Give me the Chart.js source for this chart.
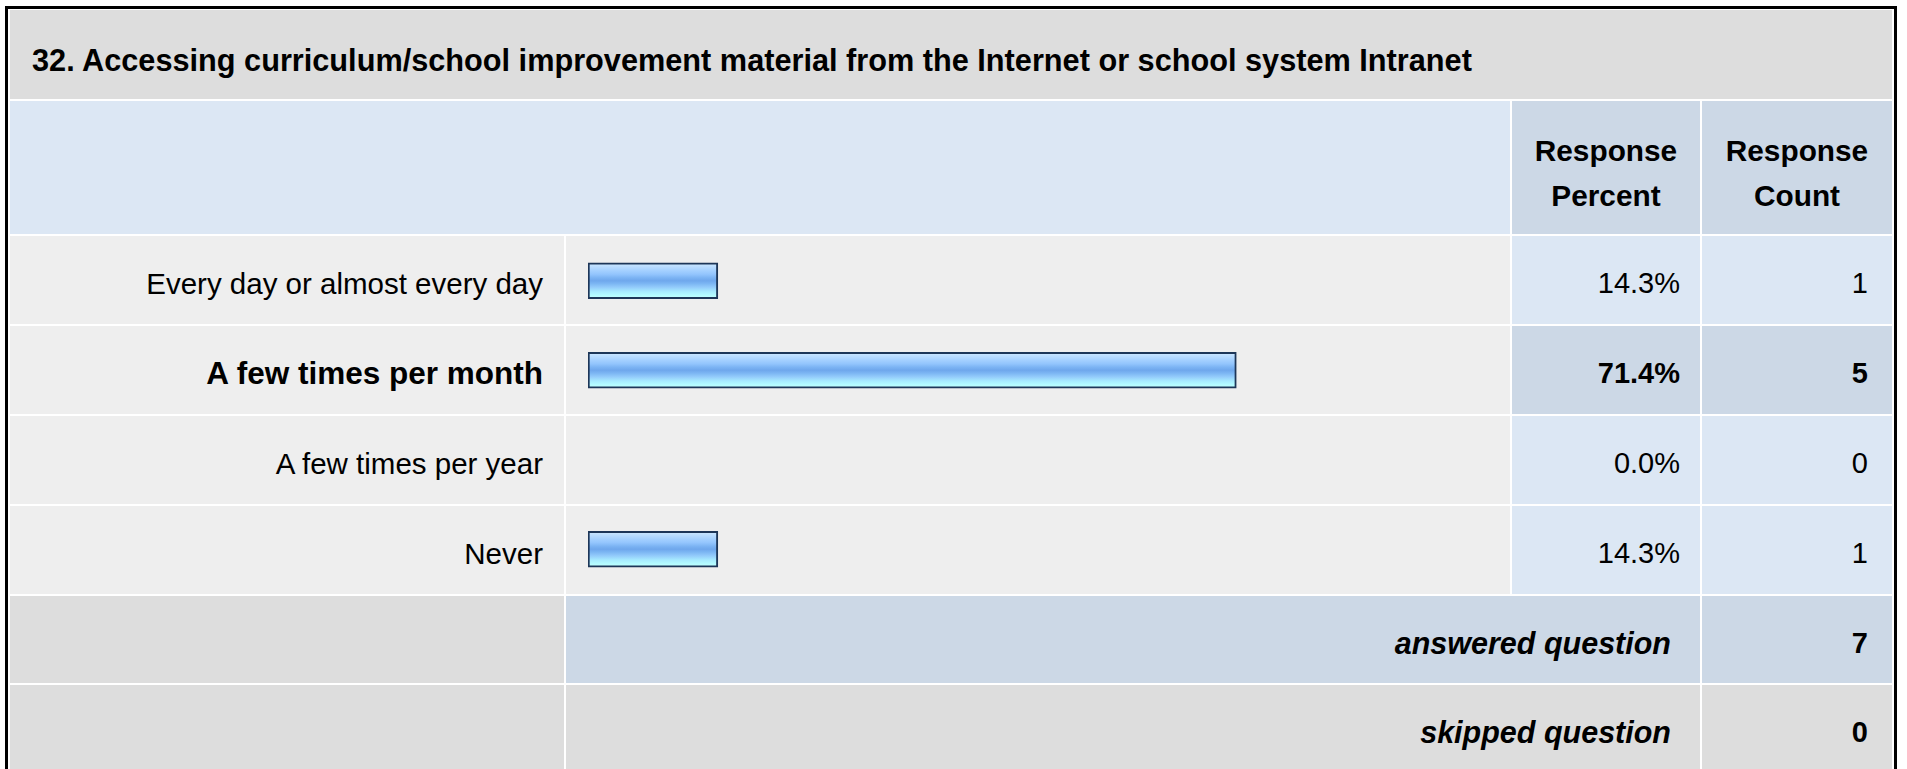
<!DOCTYPE html>
<html>
<head>
<meta charset="utf-8">
<script src="https://cdn.jsdelivr.net/npm/chart.js@4.4.1/dist/chart.umd.min.js"></script>
<style>
    html, body {
        margin: 0;
        padding: 0;
        overflow: hidden;
        background: #ffffff;
        font-family: "Liberation Sans", Arial, sans-serif;
        color: #000000;
    }
    #frame {
        position: absolute;
        left: 5px;
        top: 6px;
        width: 1886px;
        height: 800px;
        border: 3px solid #000000;
        background: #ffffff;
    }
    #survey {
        position: absolute;
        left: 10px;
        top: 10px;
        display: grid;
        grid-template-columns: 554px 944px 188px 190px;
        grid-template-rows: 89px 133px 88px 88px 88px 88px 87px 88px;
        gap: 2px;
        background: #ffffff;
    }
    .cell {
        display: flex;
        align-items: center;
        font-size: 29px;
        box-sizing: border-box;
    }
    .title {
        grid-column: 1 / 5;
        background: #dddddd;
        font-weight: bold;
        font-size: 30.7px;
        padding-left: 22px;
        padding-top: 12px;
    }
    .head-blank { grid-column: 1 / 3; background: #dce7f4; }
    .head {
        background: #ccd8e6;
        font-weight: bold;
        font-size: 29.8px;
        justify-content: center;
        text-align: center;
        line-height: 45px;
        padding-top: 10px;
    }
    .label { background: #eeeeee; justify-content: flex-end; padding-right: 21px; padding-top: 7px; font-size: 29.5px; }
    .label.hi { font-size: 31.5px; }
    .barcell { background: #eeeeee; }
    .pct { background: #dce7f4; justify-content: flex-end; padding-right: 20px; padding-top: 7px; }
    .cnt { background: #dce7f4; justify-content: flex-end; padding-right: 24px; padding-top: 7px; }
    .hi { font-weight: bold; }
    .pct.hi, .cnt.hi { background: #ccd8e6; }
    .foot-blank { background: #dddddd; }
    .foot-label {
        grid-column: 2 / 4;
        justify-content: flex-end;
        padding-right: 29px;
        padding-top: 7px;
        font-weight: bold;
        font-style: italic;
        font-size: 30.5px;
    }
    .foot-cnt { justify-content: flex-end; padding-right: 24px; padding-top: 7px; font-weight: bold; }
    .answered { background: #ccd8e6; }
    .skipped { background: #dddddd; }
    #chartBox {
        grid-column: 2;
        grid-row: 3 / 7;
        position: relative;
        z-index: 1;
    }
</style>
</head>
<body>
<div id="frame"></div>
<div id="survey">
    <div class="cell title" id="title"></div>
    <div class="cell head-blank"></div>
    <div class="cell head">Response<br>Percent</div>
    <div class="cell head">Response<br>Count</div>
    <div id="chartBox"><canvas id="myChart"></canvas></div>
</div>

<script>
const questionTitle = '32. Accessing curriculum/school improvement material from the Internet or school system Intranet'
const answers = ['Every day or almost every day', 'A few times per month', 'A few times per year', 'Never']
const percents = [14.3, 71.4, 0.0, 14.3]
const counts = [1, 5, 0, 1]
const answeredCount = 7
const skippedCount = 0

let mychart

// stripes of the glossy bar, top to bottom
const barStops = [
    [0.00, '#d2eaff'],
    [0.10, '#bcdeff'],
    [0.22, '#a4d0ff'],
    [0.32, '#93c5fd'],
    [0.42, '#7bb3f3'],
    [0.50, '#6fa7ec'],
    [0.58, '#7cb6f3'],
    [0.68, '#93cbfb'],
    [0.80, '#a7ebff'],
    [0.90, '#b3fbff'],
    [1.00, '#c4ffff']
]

function addCell(cls, text, extra){
    let div = document.createElement('div')
    div.className = 'cell ' + cls
    if (text !== undefined) div.textContent = text
    if (extra) Object.assign(div.style, extra)
    document.getElementById('survey').appendChild(div)
    return div
}

function buildTable(){
    document.getElementById('title').textContent = questionTitle

    let top = Math.max(...percents)
    answers.forEach((answer, idx) => {
        let row = idx + 3
        let hi = percents[idx] === top ? ' hi' : ''
        addCell('label' + hi, answer, {gridRow: row, gridColumn: 1})
        addCell('barcell', undefined, {gridRow: row, gridColumn: 2})
        addCell('pct' + hi, percents[idx].toFixed(1) + '%', {gridRow: row, gridColumn: 3})
        addCell('cnt' + hi, String(counts[idx]), {gridRow: row, gridColumn: 4})
    })

    addCell('foot-blank', undefined, {gridRow: 7, gridColumn: 1})
    addCell('foot-label answered', 'answered question', {gridRow: 7})
    addCell('foot-cnt answered', String(answeredCount), {gridRow: 7, gridColumn: 4})
    addCell('foot-blank', undefined, {gridRow: 8, gridColumn: 1})
    addCell('foot-label skipped', 'skipped question', {gridRow: 8})
    addCell('foot-cnt skipped', String(skippedCount), {gridRow: 8, gridColumn: 4})
}

function barFill(context){
    let yScale = context.chart.scales.y
    if (!yScale || yScale.top === undefined) return '#8fc4f8'
    let cy = yScale.getPixelForValue(context.dataIndex)
    let half = 18
    let grad = context.chart.ctx.createLinearGradient(0, cy - half, 0, cy + half)
    barStops.forEach((s) => grad.addColorStop(s[0], s[1]))
    return grad
}

function init(){
    buildTable()

    let ctx = document.getElementById('myChart')
    mychart = new Chart(ctx, {
        type: 'bar',
        data: {
            labels: answers,
            datasets: [{
                label: 'Response Percent',
                data: percents,
                backgroundColor: barFill,
                borderColor: '#1d3658',
                borderWidth: 2,
                borderSkipped: false,
                barThickness: 36
            }]
        },
        options: {
            indexAxis: 'y',
            responsive: true,
            maintainAspectRatio: false,
            animation: false,
            layout: {
                padding: {left: 22, right: 14, top: 0, bottom: 0}
            },
            scales: {
                x: {display: false, min: 0, max: 100},
                y: {display: false}
            },
            plugins: {
                legend: {display: false},
                tooltip: {enabled: false}
            }
        }
    })
}

init()
</script>
</body>
</html>
